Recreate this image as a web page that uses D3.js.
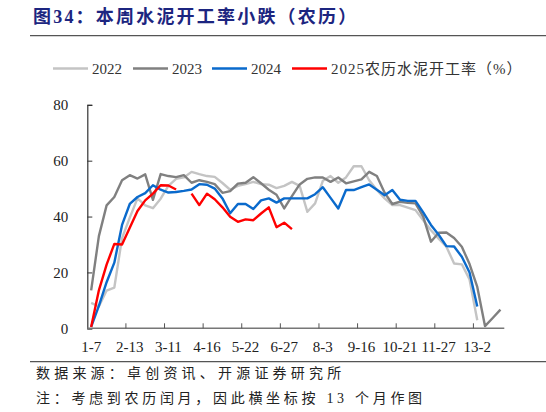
<!DOCTYPE html>
<html>
<head>
<meta charset="utf-8">
<script src="https://cdn.jsdelivr.net/npm/d3@7/dist/d3.min.js"></script>
<style>
  html, body { margin: 0; padding: 0; background: #fff; }
  svg { display: block; }
</style>
</head>
<body>
<svg id="chart" width="546" height="412"></svg>
<script>
// ---- data ----
const tickLabels = ["1-7","2-13","3-11","4-16","5-22","6-27","8-3","9-16","10-21","11-27","13-2"];
const categories = d3.range(54); // weekly slots on the lunar-calendar axis, labelled every 5
const s2022 = [9.1,7.8,13.5,14.6,32.3,39.6,46.5,44,43,46.4,51,53.5,54,56,55.2,54.5,54.2,52,49.6,51,51.6,52.4,51.6,51.4,50.2,51,52.4,51,41.7,44.7,52.8,54.5,52.1,54,58,58,53,49.5,46.5,44.1,44.1,43.2,42.3,38.7,35.1,32.1,29.2,23.2,22.9,17.5,2.9];
const s2023 = [13.6,33,44,47,53,54.8,53.6,55.1,46,55.2,54.5,54.1,54.8,52.1,53,52.4,51.6,48.5,49.1,51.8,52.1,54.1,51.9,49.6,47.8,42.9,47.3,51.5,53.5,54,54,52.4,54,51.9,52.6,53.3,56,54.5,48.5,44.5,45.3,44.9,44.7,40,31,34.2,34.3,32.3,29.2,23,14.8,0.8,3.7,6.7];
const s2024 = [0.5,8,16.5,23.5,37,44.5,47,48.4,51.2,49.6,48.6,48.8,49.2,49.7,51.6,51.4,50,46.5,41.2,44.5,44.5,42.7,45.8,46.5,45,46.5,46.5,46.5,46.5,48,50.5,46.7,42.9,49.5,49.5,50.5,51.5,49.6,47.6,49.5,46,45.6,45.6,41.5,37,33.5,29.4,29.3,25.6,20,7.8];
const s2025 = [0.5,13.6,22.8,30.2,30,36,42,45.8,48.2,51.2,51.1,49.7,null,48.2,44.1,48.2,46.2,43.3,39.9,38.1,39,38.7,41.1,43.3,36.2,37.8,35.5];
const yTicks = [0,20,40,60,80];
const seriesNames = ["2022","2023","2024","2025农历水泥开工率（%）"];
const seriesColors = ["#c4c4c4","#808080","#0a6acc","#ff0000"];

// ---- chart ----
const svg = d3.select("#chart");
const serif = "'Liberation Serif','Times New Roman','Noto Serif CJK SC','Noto Sans CJK SC',serif";
const cjk = "'Liberation Serif','Noto Sans CJK SC',serif";

const x = d3.scaleBand().domain(categories).range([87.3, 504.3]).padding(0);
const y = d3.scaleLinear().domain([0, 80]).range([328.3, 104.8]);
const cx = i => x(i) + x.bandwidth() / 2;

// title
svg.append("text")
  .attr("x", 33).attr("y", 23)
  .attr("font-family", "'Liberation Serif','Noto Sans CJK SC',serif")
  .attr("font-weight", "bold").attr("font-size", 18)
  .attr("letter-spacing", 2.2)
  .attr("fill", "#1c2580")
  .text("图34：本周水泥开工率小跌（农历）");
svg.append("line").attr("x1", 30).attr("x2", 546).attr("y1", 35.7).attr("y2", 35.7)
  .attr("stroke", "#555").attr("stroke-width", 1.2);

// legend
const legendX = [53, 133, 212, 292];
const lg = svg.append("g");
seriesNames.forEach((n, k) => {
  lg.append("line").attr("x1", legendX[k]).attr("x2", legendX[k] + 35)
    .attr("y1", 68.5).attr("y2", 68.5)
    .attr("stroke", seriesColors[k]).attr("stroke-width", 2.5);
  lg.append("text").attr("x", legendX[k] + 39).attr("y", 73.8)
    .attr("font-family", cjk).attr("font-size", 15)
    .attr("letter-spacing", k === 3 ? 1.0 : 0)
    .attr("fill", "#333").text(n);
});

// y axis
const yAxis = d3.axisLeft(y).tickValues(yTicks).tickSize(-5).tickPadding(19);
const gy = svg.append("g").attr("transform", "translate(87.3,0)").call(yAxis);
gy.select(".domain").attr("stroke", "#333").attr("stroke-width", 1.2);
gy.selectAll(".tick line").attr("stroke", "#333");
gy.selectAll(".tick text").attr("font-family", serif).attr("font-size", 15).attr("fill", "#222");

// x axis: ticks between categories every 5, labels at category centres
const tickCats = categories.filter(i => i % 5 === 0 && i > 0);
const gx = svg.append("g").attr("transform", `translate(0,${y(0)})`);
gx.append("line").attr("x1", 87.3).attr("x2", 504.3).attr("y1", 0).attr("y2", 0)
  .attr("stroke", "#777").attr("stroke-width", 1.5);
gx.selectAll("line.tk").data(tickCats).enter().append("line").attr("class", "tk")
  .attr("x1", d => x(d)).attr("x2", d => x(d)).attr("y1", 0).attr("y2", -5)
  .attr("stroke", "#555");
gx.selectAll("text").data(tickLabels).enter().append("text")
  .attr("x", (d, k) => cx(k * 5)).attr("y", 24)
  .attr("text-anchor", "middle")
  .attr("font-family", serif).attr("font-size", 15).attr("fill", "#222")
  .text(d => d);

// lines
const line = d3.line().defined(d => d != null).x((d, i) => cx(i)).y(d => y(d));
[s2022, s2023, s2024, s2025].forEach((s, k) => {
  svg.append("path").datum(s).attr("d", line)
    .attr("fill", "none").attr("stroke", seriesColors[k])
    .attr("stroke-width", 2.4).attr("stroke-linejoin", "round");
});

// footer
svg.append("line").attr("x1", 30).attr("x2", 546).attr("y1", 361.7).attr("y2", 361.7)
  .attr("stroke", "#555").attr("stroke-width", 1.2);
svg.append("text").attr("x", 36).attr("y", 378)
  .attr("font-family", cjk).attr("font-size", 14).attr("letter-spacing", 4.2)
  .attr("fill", "#222").text("数据来源：卓创资讯、开源证券研究所");
svg.append("text").attr("x", 36).attr("y", 403)
  .attr("font-family", cjk).attr("font-size", 14).attr("letter-spacing", 3.7)
  .attr("fill", "#222").text("注：考虑到农历闰月，因此横坐标按 13 个月作图");
</script>
</body>
</html>
